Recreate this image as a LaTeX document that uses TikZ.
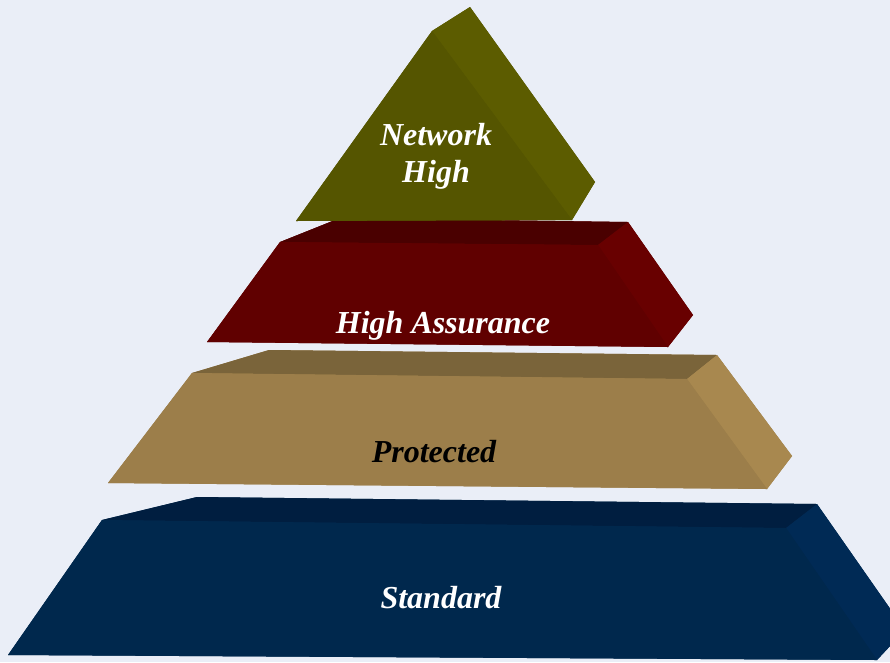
\documentclass[tikz,border=0pt]{standalone}
\usepackage{fontspec}
\setmainfont{Liberation Serif}
\begin{document}
\begin{tikzpicture}[x=1pt,y=-1pt,
  lbl/.style={font=\fontsize{32}{37}\selectfont\bfseries\itshape, align=center, inner sep=0pt},
  face/.style={line join=round}]
\definecolor{bg}{HTML}{EAEEF7}
\definecolor{olF}{HTML}{555500}
\definecolor{olS}{HTML}{5C5C00}
\definecolor{rdT}{HTML}{4A0000}
\definecolor{rdF}{HTML}{600000}
\definecolor{rdS}{HTML}{680000}
\definecolor{brT}{HTML}{7A643A}
\definecolor{brF}{HTML}{9C7E4A}
\definecolor{brS}{HTML}{A8884F}
\definecolor{nvT}{HTML}{001E40}
\definecolor{nvF}{HTML}{00284D}
\definecolor{nvS}{HTML}{002A55}
\fill[bg] (0,0) rectangle (890,662);
\useasboundingbox (0,0) rectangle (890,662);
\begin{scope}
\clip (0,0) rectangle (890,662);
% Standard
\fill[nvF] (102,520) -- (197,497) -- (817,504) -- (905,630) -- (877,660) -- (8,655) -- cycle;
\fill[nvT] (102,520) -- (197,497) -- (817,504) -- (786,528) -- cycle;
\fill[nvS] (786,528) -- (817,504) -- (905,630) -- (877,660) -- cycle;
\fill[nvF] (102,520) -- (786,528) -- (877,660) -- (8,655) -- cycle;
% Protected
\fill[brF] (192,373) -- (269,350) -- (717,355) -- (792,456) -- (767,489) -- (108,483) -- cycle;
\fill[brT] (192,373) -- (269,350) -- (717,355) -- (687,379) -- cycle;
\fill[brS] (687,379) -- (717,355) -- (792,456) -- (767,489) -- cycle;
\fill[brF] (192,373) -- (687,379) -- (767,489) -- (108,483) -- cycle;
% High Assurance
\fill[rdF] (280,242) -- (340,218) -- (628,222) -- (693,315) -- (668,347) -- (207,342) -- cycle;
\fill[rdT] (280,242) -- (340,218) -- (628,222) -- (598,245) -- cycle;
\fill[rdS] (598,245) -- (628,222) -- (693,315) -- (668,347) -- cycle;
\fill[rdF] (280,242) -- (598,245) -- (668,347) -- (207,342) -- cycle;
% Network High
\fill[olF] (296,221) -- (432,31) -- (470,7) -- (595,182) -- (572,220) -- cycle;
\fill[olS] (432,31) -- (470,7) -- (595,182) -- (572,220) -- cycle;
\fill[olF] (296,221) -- (432,31) -- (572,220) -- cycle;
\end{scope}
\node[lbl, text=white] (nh) at (436,156) {Network\\High};
\node[lbl, text=white] (ha) at (443,326) {High Assurance};
\node[lbl, text=black] (pr) at (434,452) {Protected};
\node[lbl, text=white] (st) at (441,598) {Standard};
\end{tikzpicture}
\end{document}
